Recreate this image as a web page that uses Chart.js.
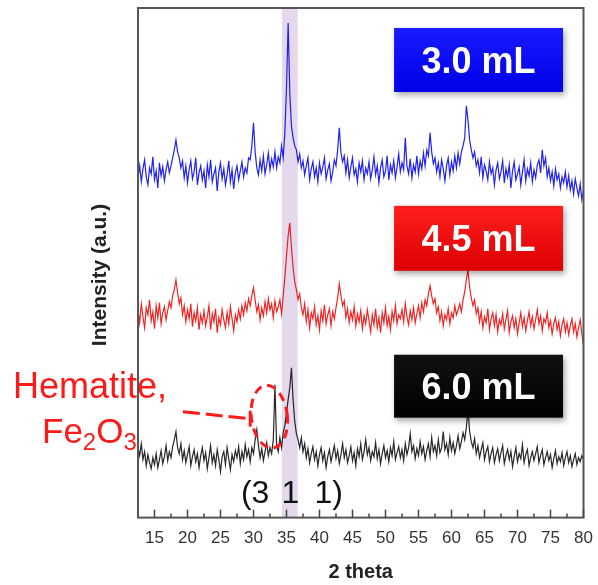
<!DOCTYPE html>
<html>
<head>
<meta charset="utf-8">
<script src="https://cdn.jsdelivr.net/npm/chart.js@4.4.1/dist/chart.umd.min.js"></script>
<style>
  html, body { margin: 0; padding: 0; background: #fff; }
  #wrap { width: 598px; height: 585px; }
</style>
</head>
<body>
<div id="wrap"><canvas id="xrd"></canvas></div>
<script>
// scan grid: 2 theta from 12.5 to 80 in 0.25 deg steps
const twoThetaStart = 12.5;
const twoThetaStep = 0.25;

const sampleLabels = ['3.0 mL', '4.5 mL', '6.0 mL'];
const xTicks = [15, 20, 25, 30, 35, 40, 45, 50, 55, 60, 65, 70, 75, 80];

// intensities (a.u.), patterns already stacked with offsets
const intensity30 = [
  340, 352, 336, 349, 358, 341, 333, 350, 344, 361, 338, 347, 330, 355, 342, 351, 337, 348, 356, 345,
  352, 360, 368, 378, 366, 360, 350, 357, 340, 352, 335, 348, 357, 339, 346, 360, 333, 345, 352, 338,
  347, 330, 353, 341, 358, 336, 344, 350, 327, 346, 355, 339, 349, 333, 343, 357, 336, 348, 329, 345,
  352, 338, 347, 356, 341, 350, 345, 360, 358, 372, 395, 366, 350, 343, 358, 347, 362, 344, 353, 365,
  348, 359, 351, 366, 350, 361, 355, 372, 360, 385, 430, 495, 425, 392, 380, 372, 368, 356, 364, 350,
  357, 343, 352, 360, 338, 349, 356, 341, 350, 336, 355, 344, 351, 360, 339, 348, 354, 337, 346, 358,
  352, 368, 390, 365, 356, 362, 345, 358, 340, 351, 360, 343, 349, 336, 355, 346, 357, 338, 350, 344,
  356, 339, 348, 361, 343, 352, 335, 350, 358, 341, 347, 362, 338, 353, 345, 357, 340, 351, 364, 346,
  355, 348, 380, 352, 344, 359, 340, 353, 346, 362, 344, 357, 349, 365, 352, 368, 362, 385, 366, 354,
  360, 346, 355, 341, 358, 349, 337, 352, 360, 343, 356, 347, 362, 350, 365, 354, 366, 372, 380, 412,
  398, 378, 368, 360, 366, 352, 358, 345, 361, 340, 353, 347, 338, 356, 344, 350, 333, 348, 355, 339,
  346, 357, 335, 349, 341, 353, 330, 347, 356, 338, 344, 351, 333, 346, 358, 337, 349, 342, 355, 336,
  348, 340, 353, 358, 345, 368, 352, 360, 341, 350, 337, 346, 332, 349, 338, 344, 330, 341, 335, 346,
  331, 342, 328, 337, 324, 339, 330, 322, 334, 318, 328
];

const intensity45 = [
  208, 195, 214, 201, 190, 210, 203, 218, 197, 206, 189, 212, 200, 215, 194, 205, 211, 198, 207, 216,
  210, 222, 228, 238, 225, 214, 220, 203, 212, 196, 208, 199, 214, 191, 205, 197, 210, 188, 203, 195,
  207, 192, 201, 212, 188, 204, 196, 209, 185, 200, 193, 208, 198, 190, 205, 194, 211, 199, 187, 203,
  196, 208, 199, 212, 203, 215, 207, 219, 212, 222, 230, 218, 206, 213, 198, 210, 202, 216, 205, 219,
  208, 214, 200, 217, 206, 211, 218, 204, 222, 240, 262, 282, 295, 270, 250, 236, 228, 218, 224, 210,
  203, 214, 196, 208, 190, 205, 199, 211, 193, 202, 188, 207, 197, 213, 194, 203, 209, 192, 206, 199,
  210, 220, 234, 222, 212, 217, 200, 209, 195, 206, 198, 211, 192, 204, 196, 207, 189, 202, 194, 208,
  197, 186, 203, 193, 209, 190, 200, 185, 205, 195, 210, 192, 201, 188, 206, 197, 212, 194, 203, 199,
  208, 196, 214, 201, 193, 207, 198, 210, 195, 204, 212, 200, 215, 206, 218, 212, 224, 232, 222, 214,
  219, 205, 211, 197, 206, 192, 203, 198, 209, 194, 205, 200, 212, 203, 208, 214, 206, 218, 226, 238,
  248, 230, 220, 212, 218, 204, 210, 196, 206, 190, 201, 195, 209, 188, 199, 205, 192, 203, 186, 198,
  193, 204, 189, 198, 207, 185, 196, 202, 190, 199, 184, 195, 205, 191, 200, 187, 197, 206, 192, 201,
  189, 198, 208, 194, 202, 187, 199, 195, 205, 190, 197, 184, 194, 200, 188, 196, 182, 193, 199, 186,
  195, 183, 192, 199, 186, 194, 181, 190, 198, 184, 172
];

const intensity60 = [
  70, 62, 74, 58, 66, 52, 63, 55, 49, 60, 53, 64, 50, 58, 67, 54, 61, 72, 57, 66,
  60, 71, 78, 86, 70, 64, 74, 58, 67, 55, 63, 71, 52, 61, 68, 56, 64, 50, 62, 70,
  57, 65, 49, 60, 72, 55, 63, 52, 68, 58, 46, 61, 66, 53, 70, 59, 48, 63, 56, 67,
  60, 71, 54, 66, 58, 73, 61, 68, 56, 70, 64, 78, 88, 72, 60, 69, 57, 66, 75, 62,
  70, 64, 78, 133, 72, 66, 80, 70, 85, 92, 105, 118, 130, 150, 118, 96, 84, 78, 70, 80,
  66, 74, 60, 69, 55, 64, 71, 58, 66, 52, 63, 70, 57, 65, 50, 61, 68, 56, 64, 72,
  59, 67, 54, 63, 74, 60, 68, 55, 62, 71, 57, 65, 52, 69, 61, 74, 58, 66, 78, 63,
  70, 57, 66, 61, 75, 59, 68, 54, 64, 72, 60, 67, 56, 70, 62, 76, 58, 65, 71, 60,
  68, 57, 74, 63, 70, 84, 66, 72, 59, 69, 62, 76, 64, 71, 58, 67, 74, 61, 80, 66,
  72, 62, 78, 65, 70, 86, 68, 74, 63, 80, 67, 75, 64, 72, 82, 69, 76, 85, 78, 90,
  108, 86, 76, 70, 79, 64, 72, 60, 68, 75, 58, 66, 71, 56, 64, 70, 55, 63, 69, 57,
  65, 72, 54, 62, 68, 58, 66, 51, 61, 70, 56, 64, 59, 73, 55, 63, 68, 52, 60, 66,
  57, 64, 71, 55, 62, 68, 53, 60, 66, 57, 63, 50, 59, 67, 54, 61, 56, 65, 52, 60,
  66, 55, 62, 51, 58, 64, 53, 60, 56, 62, 58
];

const twoTheta = intensity30.map((_, i) => twoThetaStart + i * twoThetaStep);
const toPoints = arr => arr.map((v, i) => ({ x: twoTheta[i], y: v }));

const lineColors = ['rgba(10, 10, 235, 0.9)', 'rgba(238, 10, 10, 0.9)', 'rgba(15, 15, 15, 0.9)'];
const boxColors = [['#1a1aff', '#0000e6'], ['#ff1f1f', '#dc0000'], ['#111111', '#000000']];
// label box extents in data units: x from..to, y top..bottom
const boxSpots = [
  { x0: 51.3, x1: 76.9, yTop: 490, yBot: 426 },
  { x0: 51.3, x1: 76.9, yTop: 312, yBot: 247 },
  { x0: 51.3, x1: 76.9, yTop: 163, yBot: 100 }
];

const decorPlugin = {
  id: 'decor',
  beforeDatasetsDraw(chart) {
    const { ctx, chartArea: a, scales: { x, y } } = chart;
    ctx.save();
    // (3 1 1) highlight band
    ctx.fillStyle = 'rgb(228, 216, 236)';
    const b0 = x.getPixelForValue(34.3), b1 = x.getPixelForValue(36.7);
    ctx.fillRect(b0, a.top, b1 - b0, a.bottom - a.top);

    // (3 1 1) label
    ctx.fillStyle = '#111';
    ctx.font = '32px "Liberation Sans", Arial, sans-serif';
    ctx.textAlign = 'center';
    ctx.textBaseline = 'alphabetic';
    const base = y.getPixelForValue(15);
    ctx.fillText('(3', x.getPixelForValue(30.25), base);
    ctx.fillText('1', x.getPixelForValue(35.6), base);
    ctx.fillText('1)', x.getPixelForValue(41.4), base);

    // hematite note
    ctx.fillStyle = '#ff1a1a';
    ctx.textAlign = 'left';
    ctx.font = '36px "Liberation Sans", Arial, sans-serif';
    ctx.fillText('Hematite,', 13, 398);
    let cx = 42;
    const parts = [['Fe', 0, 35], ['2', 7, 24], ['O', 0, 35], ['3', 7, 24]];
    parts.forEach(([t, dy, sz]) => {
      ctx.font = sz + 'px "Liberation Sans", Arial, sans-serif';
      ctx.fillText(t, cx, 443 + dy);
      cx += ctx.measureText(t).width;
    });
    ctx.restore();
  },
  afterDatasetsDraw(chart) {
    const { ctx, chartArea: a, scales: { x, y } } = chart;
    ctx.save();

    // dashed leader and ellipse round the hematite peak
    ctx.strokeStyle = '#ff1a1a';
    ctx.lineWidth = 3;
    ctx.setLineDash([17, 6]);
    ctx.beginPath();
    ctx.moveTo(x.getPixelForValue(19.3), y.getPixelForValue(106));
    ctx.lineTo(x.getPixelForValue(29.3), y.getPixelForValue(99));
    ctx.stroke();
    ctx.setLineDash([]);
    ctx.beginPath();
    ctx.moveTo(x.getPixelForValue(29.5), y.getPixelForValue(107));
    ctx.lineTo(x.getPixelForValue(29.5), y.getPixelForValue(91));
    ctx.stroke();
    ctx.setLineDash([9, 6]);
    ctx.beginPath();
    ctx.ellipse(x.getPixelForValue(32.4), y.getPixelForValue(101), 18, 31.5, -0.12, 0, Math.PI * 2);
    ctx.stroke();
    ctx.setLineDash([]);

    // sample label boxes
    chart.data.datasets.forEach((ds, i) => {
      const s = boxSpots[i];
      const l = x.getPixelForValue(s.x0), r = x.getPixelForValue(s.x1);
      const t = y.getPixelForValue(s.yTop), btm = y.getPixelForValue(s.yBot);
      const g = ctx.createLinearGradient(0, t, 0, btm);
      g.addColorStop(0, boxColors[i][0]);
      g.addColorStop(1, boxColors[i][1]);
      ctx.save();
      ctx.shadowColor = 'rgba(0, 0, 0, 0.35)';
      ctx.shadowBlur = 6;
      ctx.shadowOffsetX = 2;
      ctx.shadowOffsetY = 3;
      ctx.fillStyle = g;
      ctx.fillRect(l, t, r - l, btm - t);
      ctx.restore();
      ctx.fillStyle = '#fff';
      ctx.font = 'bold 36px "Liberation Sans", Arial, sans-serif';
      ctx.textAlign = 'center';
      ctx.textBaseline = 'alphabetic';
      ctx.fillText(ds.label, (l + r) / 2, (t + btm) / 2 + 13);
    });

    // plot frame
    ctx.strokeStyle = '#555';
    ctx.lineWidth = 2;
    ctx.strokeRect(a.left, a.top, a.right - a.left, a.bottom - a.top);

    // inward ticks, major every 5, minor between
    ctx.lineWidth = 1.5;
    ctx.strokeStyle = '#444';
    xTicks.forEach(v => {
      const px = x.getPixelForValue(v);
      ctx.beginPath();
      ctx.moveTo(px, a.bottom);
      ctx.lineTo(px, a.bottom - 8);
      ctx.stroke();
      const pm = x.getPixelForValue(v - 2.5);
      if (pm > a.left + 2) {
        ctx.beginPath();
        ctx.moveTo(pm, a.bottom);
        ctx.lineTo(pm, a.bottom - 4);
        ctx.stroke();
      }
    });

    // y axis title
    ctx.fillStyle = '#222';
    ctx.font = 'bold 21px "Liberation Sans", Arial, sans-serif';
    ctx.textAlign = 'center';
    ctx.textBaseline = 'middle';
    ctx.translate(100, 275);
    ctx.rotate(-Math.PI / 2);
    ctx.fillText('Intensity (a.u.)', 0, 0);
    ctx.restore();
  }
};

new Chart(document.getElementById('xrd'), {
  type: 'line',
  data: {
    datasets: [intensity30, intensity45, intensity60].map((arr, i) => ({
      label: sampleLabels[i],
      data: toPoints(arr),
      borderColor: lineColors[i],
      borderWidth: 1.2,
      pointRadius: 0,
      tension: 0,
      fill: false
    }))
  },
  options: {
    responsive: true,
    maintainAspectRatio: false,
    animation: false,
    layout: { padding: { left: 138, right: 14.5, top: 8, bottom: 1 } },
    plugins: {
      legend: { display: false },
      tooltip: { enabled: false }
    },
    scales: {
      x: {
        type: 'linear',
        min: 12.5,
        max: 80,
        afterBuildTicks: scale => { scale.ticks = xTicks.map(v => ({ value: v })); },
        afterFit: scale => { scale.paddingLeft = 0; scale.paddingRight = 0; },
        grid: { display: false, drawTicks: false },
        border: { display: false },
        ticks: {
          padding: 11,
          color: '#333',
          font: { size: 17, family: '"Liberation Sans", Arial, sans-serif' },
          maxRotation: 0,
          autoSkip: false
        },
        title: {
          display: true,
          text: '2 theta',
          color: '#222',
          font: { size: 20, weight: 'bold', family: '"Liberation Sans", Arial, sans-serif' },
          padding: { top: 0, bottom: 0 }
        }
      },
      y: {
        display: false,
        min: 0,
        max: 510
      }
    }
  },
  plugins: [decorPlugin]
});
</script>
</body>
</html>
